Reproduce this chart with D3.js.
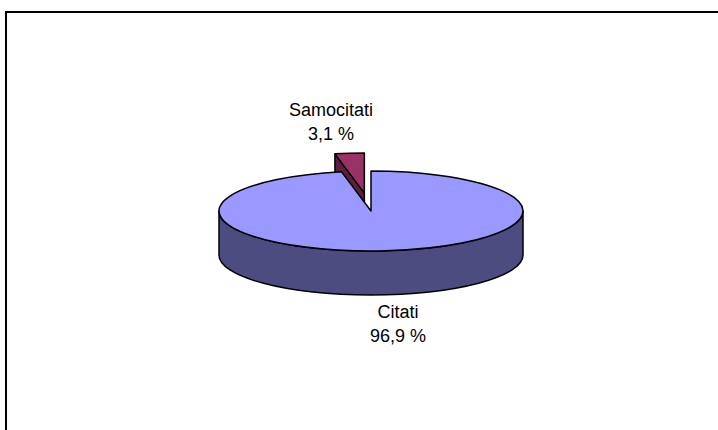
<!DOCTYPE html>
<html>
<head>
<meta charset="utf-8">
<script src="https://cdn.jsdelivr.net/npm/d3@7"></script>
<style>
  body { margin: 0; background: #fff; }
  text { font-family: "Liberation Sans", Arial, sans-serif; font-size: 18px; fill: #000; }
</style>
</head>
<body>
<svg id="chart"></svg>
<script>
const width = 718;
const height = 430;

// data
const categories = ["Citati", "Samocitati"];
const values = [96.9, 3.1];
const valueLabels = ["96,9 %", "3,1 %"];

const topColors = ["#9999ff", "#993366"];
const sideColors = ["#4c4c80", "#5c1f3e"];

// 3d pie geometry
const cx = 371, cy = 211;
const rx = 152, ry = 40;
const depth = 44;
const explode = [0, 0.45];

// label anchors (centre x, first baseline y)
const labelPos = {
    "Citati": [398, 318],
    "Samocitati": [331, 116]
};

const svg = d3.select("#chart")
    .attr("width", width)
    .attr("height", height);

// chart frame
svg.append("rect")
    .attr("x", 6)
    .attr("y", 12)
    .attr("width", width + 20)
    .attr("height", height + 20)
    .attr("fill", "none")
    .attr("stroke", "#000")
    .attr("stroke-width", 2);

const pie = d3.pie().sort(null).value(function(d) { return d.value });
const slices = pie(categories.map(function(c, i) {
    return {name: c, value: values[i], label: valueLabels[i], i: i};
}));

slices.forEach(function(s) {
    const mid = (s.startAngle + s.endAngle) / 2;
    const e = explode[s.data.i];
    s.ox = cx + e * rx * Math.sin(mid);
    s.oy = cy - e * ry * Math.cos(mid);
});

function pt(s, a, dz) {
    return [s.ox + rx * Math.sin(a), s.oy - ry * Math.cos(a) + (dz || 0)];
}

function topPath(s) {
    const p0 = pt(s, s.startAngle), p1 = pt(s, s.endAngle);
    const large = (s.endAngle - s.startAngle) > Math.PI ? 1 : 0;
    return "M" + s.ox + "," + s.oy + "L" + p0 + "A" + rx + "," + ry + " 0 " + large + " 1 " + p1 + "Z";
}

function outerWall(s) {
    const a0 = Math.max(s.startAngle, Math.PI / 2);
    const a1 = Math.min(s.endAngle, Math.PI * 3 / 2);
    if (a1 <= a0) return null;
    const p0 = pt(s, a0), p1 = pt(s, a1);
    const q0 = pt(s, a0, depth), q1 = pt(s, a1, depth);
    return "M" + p0 + "A" + rx + "," + ry + " 0 0 1 " + p1 + "L" + q1 +
        "A" + rx + "," + ry + " 0 0 0 " + q0 + "Z";
}

function startWall(s) {
    // radial face on the counter-clockwise side, seen when it turns to the viewer
    if (Math.cos(s.startAngle) >= 0 && Math.sin(s.startAngle) >= 0) return null;
    const p = pt(s, s.startAngle), q = pt(s, s.startAngle, depth);
    return "M" + s.ox + "," + s.oy + "L" + p + "L" + q + "L" + s.ox + "," + (s.oy + depth) + "Z";
}

const g = svg.append("g")
    .attr("stroke", "#000")
    .attr("stroke-width", 1.5)
    .attr("stroke-linejoin", "round");

// draw back slice first so the big one covers it
const order = slices.slice().sort(function(a, b) { return a.oy - b.oy });
order.forEach(function(s) {
    const sw = startWall(s);
    if (sw && s.startAngle > Math.PI) {
        g.append("path").attr("d", sw).attr("fill", sideColors[s.data.i]);
    }
    const ow = outerWall(s);
    if (ow) g.append("path").attr("d", ow).attr("fill", sideColors[s.data.i]);
    g.append("path").attr("d", topPath(s)).attr("fill", topColors[s.data.i]);
});

// labels
slices.forEach(function(s) {
    const p = labelPos[s.data.name];
    const t = svg.append("text")
        .attr("x", p[0])
        .attr("y", p[1])
        .attr("text-anchor", "middle");
    t.append("tspan").attr("x", p[0]).text(s.data.name);
    t.append("tspan").attr("x", p[0]).attr("dy", 24).text(s.data.label);
});
</script>
</body>
</html>
